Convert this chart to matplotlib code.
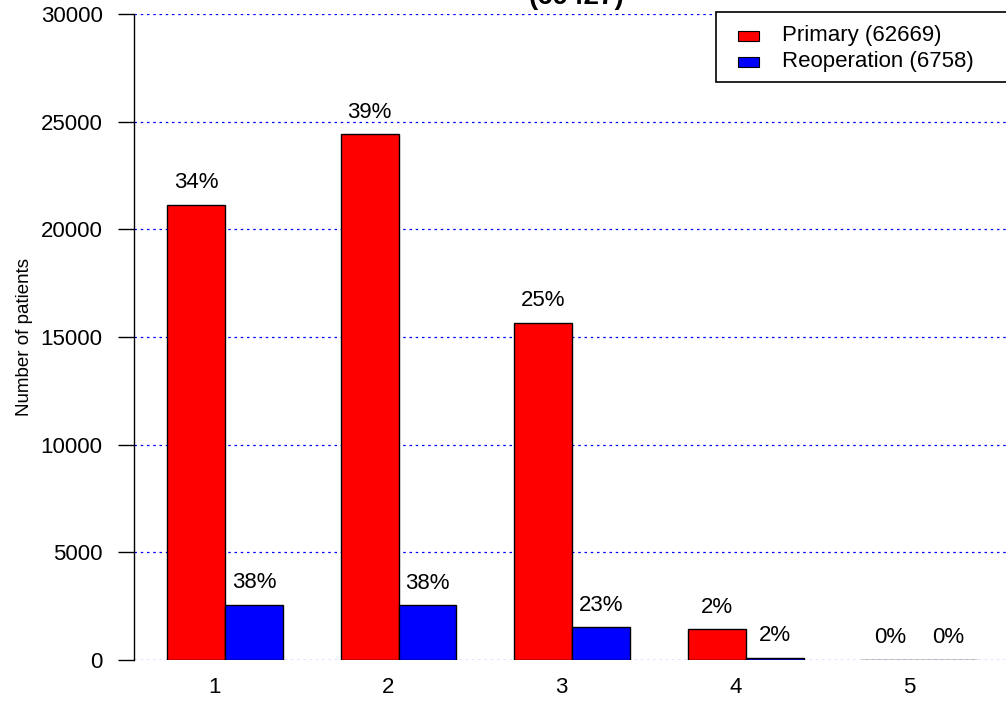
import matplotlib
matplotlib.use("Agg")
import matplotlib.pyplot as plt
import numpy as np
from matplotlib.patches import Rectangle

plt.rcParams['font.family'] = ['Liberation Sans', 'DejaVu Sans']

categories = ["1", "2", "3", "4", "5"]
primary = [21150, 24420, 15660, 1430, 9]
reoperation = [2560, 2550, 1530, 110, 8]
primary_label = "Primary (62669)"
reop_label = "Reoperation (6758)"
title = "(69427)"
ylabel = "Number of patients"
yticks = [0, 5000, 10000, 15000, 20000, 25000, 30000]

W, H = 1006, 702
fig = plt.figure(figsize=(W / 100, H / 100), dpi=100)
ax = fig.add_axes([134 / W, 42 / H, (W - 134) / W, 646 / H])

FS = 16
x = np.arange(len(categories))
w = 1 / 3
ax.bar(x - w / 2, primary, w, color="#ff0000", edgecolor="black", linewidth=1, zorder=3)
ax.bar(x + w / 2, reoperation, w, color="#0000ff", edgecolor="black", linewidth=1, zorder=3)

ptot = sum(primary)
rtot = sum(reoperation)
off = 1020
for xi, v in zip(x, primary):
    ax.text(xi - w / 2, v + off, f"{round(100 * v / ptot)}%", ha="center", va="center", fontsize=FS)
for xi, v in zip(x, reoperation):
    ax.text(xi + w / 2, v + off, f"{round(100 * v / rtot)}%", ha="center", va="center", fontsize=FS)

ax.set_xlim(-0.525, 4.5)
ax.set_ylim(0, 30000)
ax.set_yticks(yticks)
ax.set_yticklabels([str(t) for t in yticks], fontsize=FS)
ax.set_xticks(x - 0.06)
ax.set_xticklabels(categories, fontsize=FS)
ax.tick_params(axis="x", length=0, pad=12)
ax.tick_params(axis="y", length=11.5, width=1, pad=11)

for t in yticks:
    ax.axhline(t, color="#0000ff", linestyle=(0, (2, 3)), linewidth=0.9, zorder=1)

for s in ["top", "right", "bottom"]:
    ax.spines[s].set_visible(False)
ax.spines["left"].set_linewidth(1)

fig.text(25 / W, 1 - 337 / H, ylabel, rotation=90, ha="center", va="center", fontsize=13.5)

fig.text(576 / W, 1 - 4.5 / H, title, ha="center", va="baseline", fontsize=20, fontweight="bold")

# legend box, drawn in pixel coordinates of the figure
px = lambda a, b: (a / W, 1 - b / H)
fig.patches.append(Rectangle(px(716, 82), 300 / W, 70 / H, transform=fig.transFigure,
                             facecolor="white", edgecolor="black", linewidth=1.2, zorder=5))
for yy, col, lab in [(36, "#ff0000", primary_label), (62, "#0000ff", reop_label)]:
    fig.patches.append(Rectangle(px(738, yy + 5), 21 / W, 10 / H, transform=fig.transFigure,
                                 facecolor=col, edgecolor="black", linewidth=0.8, zorder=6))
    fig.text(782 / W, 1 - yy / H, lab, ha="left", va="center", fontsize=FS, zorder=7)

fig.savefig("out.png", dpi=100)
